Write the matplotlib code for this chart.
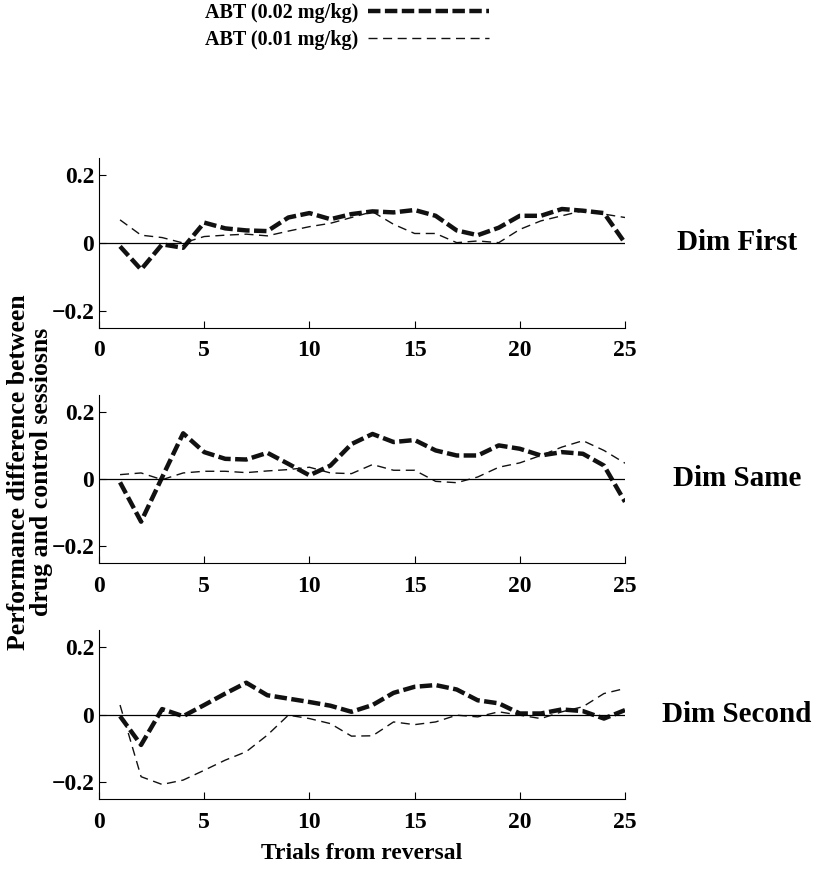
import matplotlib
matplotlib.use("Agg")
import matplotlib.pyplot as plt
import numpy as np

plt.rcParams['font.family'] = ['Liberation Serif', 'DejaVu Serif']
plt.rcParams['font.weight'] = 'bold'

trials = np.arange(1, 26)

# Dim First
first_02 = [-0.01, -0.078, -0.004, -0.014, 0.06, 0.043, 0.037, 0.035, 0.075, 0.088,
            0.07, 0.085, 0.093, 0.09, 0.097, 0.08, 0.037, 0.023, 0.045, 0.08,
            0.08, 0.1, 0.095, 0.088, 0.0]
first_01 = [0.068, 0.023, 0.016, 0.0, 0.019, 0.023, 0.026, 0.021, 0.035, 0.048,
            0.058, 0.075, 0.092, 0.055, 0.028, 0.028, 0.001, 0.006, 0.001, 0.04,
            0.065, 0.08, 0.095, 0.085, 0.075]

# Dim Same
same_02 = [-0.01, -0.127, 0.005, 0.136, 0.08, 0.06, 0.058, 0.078, 0.045, 0.011,
           0.04, 0.104, 0.134, 0.11, 0.116, 0.085, 0.07, 0.07, 0.1, 0.09,
           0.07, 0.08, 0.075, 0.04, -0.068]
same_01 = [0.013, 0.018, -0.002, 0.018, 0.023, 0.023, 0.019, 0.024, 0.028, 0.035,
           0.018, 0.016, 0.043, 0.026, 0.026, -0.007, -0.011, 0.006, 0.035, 0.048,
           0.07, 0.095, 0.114, 0.085, 0.047]

# Dim Second
second_02 = [-0.005, -0.09, 0.016, -0.005, 0.028, 0.062, 0.094, 0.057, 0.047, 0.037,
             0.026, 0.008, 0.028, 0.064, 0.082, 0.087, 0.074, 0.042, 0.033, 0.003,
             0.003, 0.015, 0.01, -0.012, 0.013]
second_01 = [0.028, -0.184, -0.207, -0.194, -0.165, -0.135, -0.11, -0.061, -0.002, -0.012,
             -0.027, -0.064, -0.063, -0.022, -0.03, -0.022, -0.002, -0.007, 0.008, -0.002,
             -0.012, 0.008, 0.023, 0.062, 0.077]

panel_names = ["Dim First", "Dim Same", "Dim Second"]
series_02 = [first_02, same_02, second_02]
series_01 = [first_01, same_01, second_01]

fig = plt.figure(figsize=(8.15, 8.71), dpi=100)
left, width = 99 / 815, 526 / 815
tops = [158, 395, 630]
bottoms = [328, 563, 799]

for i in range(3):
    ax = fig.add_axes([left, 1 - bottoms[i] / 871, width, (bottoms[i] - tops[i]) / 871])
    l1, = ax.plot(trials, series_02[i], color='#111111', lw=3.2, dashes=(2.8, 1.0),
                  label='ABT (0.02 mg/kg)')
    l2, = ax.plot(trials, series_01[i], color='#111111', lw=1.0, dashes=(6.5, 4),
                  label='ABT (0.01 mg/kg)')
    ax.axhline(0, color='black', lw=0.9)
    ax.set_xlim(0, 25)
    ax.set_ylim(-0.25, 0.25)
    ax.set_xticks([0, 5, 10, 15, 20, 25])
    ax.set_yticks([-0.2, 0, 0.2])
    ax.set_yticklabels(['\u22120.2', '0', '0.2'])
    ax.spines['top'].set_visible(False)
    ax.spines['right'].set_visible(False)
    ax.tick_params(direction='in', length=5, width=0.8, labelsize=17)
    ax.tick_params(axis='x', pad=9)
    for lab in ax.get_xticklabels() + ax.get_yticklabels():
        lab.set_fontweight('bold')
    ax.text((737 - 99) / 526, 0.5, panel_names[i], transform=ax.transAxes, fontsize=21,
            fontweight='bold', va='center', ha='center')
    if i == 0:
        handles = [l1, l2]

fig.text(30 / 815, 1 - 472 / 871, "Performance difference between\ndrug and control sessiosns",
         rotation=90, ha='center', va='center', fontsize=18.5, fontweight='bold',
         linespacing=1.0)
fig.text(362 / 815, 1 - 853 / 871, "Trials from reversal", ha='center', va='center',
         fontsize=17, fontweight='bold')

fig.legend(handles, [h.get_label() for h in handles], loc='upper center',
           bbox_to_anchor=(0.426, 1.017), frameon=False, markerfirst=False,
           handlelength=6.0, handletextpad=0.5, labelspacing=0.35,
           prop={'weight': 'bold', 'size': 14.5})

fig.savefig("out.png", dpi=100)
